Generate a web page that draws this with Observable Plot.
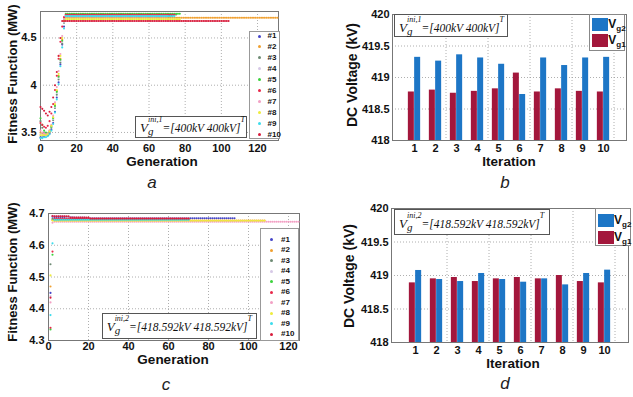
<!DOCTYPE html>
<html><head><meta charset="utf-8">
<script src="https://cdn.jsdelivr.net/npm/d3@7"></script>
<script src="https://cdn.jsdelivr.net/npm/@observablehq/plot@0.6"></script>
<style>
body{margin:0;background:#fff}
#root{position:relative;width:633px;height:397px;overflow:hidden;background:#fff;font-family:"Liberation Sans",Arial,sans-serif;color:#111}
.panel{position:absolute;overflow:hidden}
.t{position:absolute;white-space:nowrap;font-weight:bold;line-height:1}
.ylab{transform:translate(-50%,-50%) rotate(-90deg)}
.xlab{transform:translate(-50%,0)}
.letter{position:absolute;font-style:italic;font-size:17px;line-height:1;transform:translate(-50%,0);color:#222}
.ann{position:absolute;background:#fff;border:1px solid #555;box-sizing:border-box;white-space:nowrap;font-family:"Liberation Serif","Times New Roman",serif;font-style:italic;font-size:11.5px;padding-left:4px}
.ann .V{font-size:13px}
.ann .ss{position:relative;display:inline-block;font-size:8px;line-height:8px}
.ann .ss .sp{position:relative;top:-10px}
.ann .ss .sb{position:absolute;left:0;top:0;font-size:11px;line-height:11px}
.ann .T{position:relative;top:-10px;font-size:8px}
.leg{position:absolute;background:#fff;border:1px solid #999;box-sizing:border-box}
.leg .row{position:absolute;left:0;height:10px;font-size:8px;font-weight:bold;line-height:10px;white-space:nowrap}
.leg .mk{position:absolute;width:3px;height:3px;border-radius:50%;top:3.5px}
.vleg{position:absolute;background:#fff;border:1px solid #888;box-sizing:border-box}
.vleg .sw{position:absolute;width:16px;height:13px}
.vleg .lb{position:absolute;font-weight:bold;font-size:12px;line-height:1;white-space:nowrap}
.vleg .lb sub{font-size:8px;vertical-align:-3px}
</style></head>
<body>
<div id="root"></div>
<script>
// ---------- shared series info ----------
const runs = ["#1","#2","#3","#4","#5","#6","#7","#8","#9","#10"];
const runColors = ["#4545c8","#f0a030","#6e8b74","#d6c8e6","#3cd23c","#e8284a","#f2a0c4","#eeec3c","#3cdcec","#d81c3c"];

// ---------- panel a: fitness vs generation, Vg_ini = [400kV 400kV] ----------
const genTicksA = [0,20,40,60,80,100,120];
const fitTicksA = [3.5,4,4.5];
// fitness values for generations 0..13 of each run
const earlyA = [
  [3.45,3.45,3.46,3.46,3.47,3.49,3.53,3.60,3.72,3.87,4.03,4.22,4.43,4.62],
  [3.50,3.49,3.48,3.48,3.49,3.52,3.57,3.66,3.79,3.94,4.10,4.28,4.48,4.68],
  [3.62,3.55,3.50,3.48,3.47,3.50,3.55,3.63,3.76,3.90,4.06,4.24,4.44,4.66],
  [3.48,3.47,3.47,3.46,3.48,3.51,3.56,3.64,3.77,3.92,4.08,4.26,4.46,4.67],
  [3.65,3.58,3.52,3.50,3.49,3.51,3.56,3.65,3.78,3.93,4.09,4.27,4.47,4.70],
  [3.60,3.58,3.56,3.55,3.57,3.62,3.70,3.80,3.95,4.10,4.28,4.46,4.62,4.72],
  [3.52,3.50,3.49,3.48,3.49,3.52,3.58,3.68,3.82,3.98,4.15,4.33,4.52,4.70],
  [3.47,3.47,3.47,3.47,3.48,3.51,3.57,3.66,3.80,3.95,4.12,4.31,4.50,4.68],
  [3.44,3.44,3.45,3.45,3.46,3.48,3.52,3.59,3.71,3.85,4.01,4.20,4.40,4.60],
  [3.77,3.75,3.73,3.70,3.68,3.72,3.77,3.87,4.00,4.14,4.31,4.50,4.68,4.68]
];
// converged value of each run and the last generation it reaches: [value, lastGeneration]
const plateauA = [
  [[4.735,72]],[[4.714,131]],[[4.748,75]],[[4.738,70]],[[4.756,77]],
  [[4.744,74]],[[4.728,70]],[[4.697,77]],[[4.731,74]],[[4.680,104]]
];

// ---------- panel c: fitness vs generation, Vg_ini = [418.592kV 418.592kV] ----------
const genTicksC = [0,20,40,60,80,100,120];
const fitTicksC = [4.3,4.4,4.5,4.6,4.7];
// fitness values for generations 1..2 of each run
const earlyC = [
  [4.450,4.690],[4.470,4.679],[4.540,4.683],[4.440,4.693],[4.335,4.570],
  [4.340,4.580],[4.420,4.671],[4.505,4.678],[4.380,4.606],[4.435,4.692]
];
const plateauC = [
  [[4.689,12],[4.685,93]],
  [[4.678,108]],
  [[4.682,70]],
  [[4.692,8],[4.689,18],[4.685,70]],
  [[4.680,70]],
  [[4.683,70]],
  [[4.674,125]],
  [[4.677,108]],
  [[4.680,70]],
  [[4.691,10],[4.687,20],[4.684,70]]
];

// ---------- panels b, d: DC voltages per iteration ----------
const iterations = [1,2,3,4,5,6,7,8,9,10];
const voltTicks = [418,418.5,419,419.5,420];
const voltDomain = [418,420];
const iterGrid = [2,4,6,8,10];
const vg1B = [418.77,418.80,418.75,418.78,418.82,419.07,418.77,418.82,418.78,418.77];
const vg2B = [419.32,419.26,419.36,419.31,419.21,418.73,419.31,419.19,419.31,419.32];
const vg1D = [418.89,418.95,418.97,418.91,418.95,418.97,418.95,419.00,418.91,418.89];
const vg2D = [419.075,418.94,418.91,419.03,418.94,418.90,418.95,418.86,419.03,419.08];
const colVg1 = "#a3173c", colVg2 = "#1d76c6";

// ---------- helpers ----------
function buildRuns(early, plateaus, firstGen) {
  const out = [];
  runs.forEach((run, r) => {
    let g = firstGen;
    for (const v of early[r]) out.push({run, gen: g++, value: v});
    for (const [v, last] of plateaus[r]) while (g <= last) out.push({run, gen: g++, value: v});
  });
  return out;
}
const fmt = d => String(d);
const gridStyle = {stroke: "#9a9a9a", strokeOpacity: 1, strokeDasharray: "1,2", strokeWidth: 0.8};
const baseStyle = {fontFamily: "Liberation Sans, Arial, sans-serif", fontSize: "11px", fontWeight: "bold", color: "#111", background: "transparent", overflow: "visible"};
const root = document.getElementById("root");
function place(el, left, top, w, h) {
  const d = document.createElement("div");
  d.className = "panel";
  Object.assign(d.style, {left: left + "px", top: top + "px", width: w + "px", height: h + "px"});
  d.appendChild(el);
  root.appendChild(d);
}
function html(s) { root.insertAdjacentHTML("beforeend", s); }

function fitnessChart(data, opts) {
  return Plot.plot({
    width: opts.width, height: opts.height,
    marginLeft: opts.ml, marginRight: opts.mr, marginTop: opts.mt, marginBottom: opts.mb,
    x: {domain: opts.xDomain},
    y: {domain: opts.yDomain},
    color: {domain: runs, range: runColors},
    style: baseStyle,
    marks: [
      Plot.gridX(opts.xTicks.filter(t => t > 0), gridStyle),
      Plot.gridY(opts.yGrid, gridStyle),
      Plot.frame({stroke: "#777"}),
      Plot.dot(data, {x: "gen", y: "value", fill: "run", r: 1.05, stroke: null}),
      Plot.axisX(opts.xTicks, {tickSize: 0, tickPadding: opts.xpad, tickFormat: fmt, label: null}),
      Plot.axisY(opts.yTicks, {tickSize: 0, tickPadding: 4, tickFormat: fmt, label: null})
    ]
  });
}

function voltChart(v1, v2, opts) {
  const d1 = iterations.map((it, i) => ({iter: it, v: v1[i]}));
  const d2 = iterations.map((it, i) => ({iter: it, v: v2[i]}));
  return Plot.plot({
    width: opts.width, height: opts.height,
    marginLeft: opts.ml, marginRight: opts.mr, marginTop: opts.mt, marginBottom: opts.mb,
    x: {type: "band", domain: iterations, paddingInner: 0.7, paddingOuter: opts.po},
    y: {domain: voltDomain},
    style: baseStyle,
    marks: [
      Plot.ruleX(iterGrid, {x: d => d, dx: 10.5, ...gridStyle}),
      Plot.gridY(voltTicks.slice(1, -1), gridStyle),
      Plot.barY(d1, {x: "iter", y1: voltDomain[0], y2: "v", fill: colVg1, dx: -3.15}),
      Plot.barY(d2, {x: "iter", y1: voltDomain[0], y2: "v", fill: colVg2, dx: 3.15}),
      Plot.frame({stroke: "#777"}),
      Plot.axisX(iterations, {tickSize: 0, tickPadding: opts.xpad, tickFormat: fmt, label: null}),
      Plot.axisY(voltTicks, {tickSize: 0, tickPadding: 3, tickFormat: fmt, label: null})
    ]
  });
}

// ---------- draw charts ----------
place(fitnessChart(buildRuns(earlyA, plateauA, 0), {
  width: 300, height: 200, ml: 40, mr: 22, mt: 11, mb: 60,
  xDomain: [0, 131.6], yDomain: [3.415, 4.78],
  xTicks: genTicksA, yTicks: fitTicksA, yGrid: fitTicksA, xpad: 3.5
}), 0, 0, 300, 200);

place(voltChart(vg1B, vg2B, {width: 313, height: 200, ml: 72, mr: 7, mt: 14, mb: 60, po: 0.92, xpad: 3.5}), 320, 0, 313, 200);

place(fitnessChart(buildRuns(earlyC, plateauC, 1), {
  width: 300, height: 197, ml: 48, mr: 1, mt: 13, mb: 57,
  xDomain: [0, 125.5], yDomain: [4.3, 4.7],
  xTicks: genTicksC, yTicks: fitTicksC, yGrid: [4.4, 4.5, 4.6], xpad: 1.5
}), 0, 200, 300, 197);

place(voltChart(vg1D, vg2D, {width: 313, height: 197, ml: 71, mr: 5, mt: 8, mb: 55, po: 0.99, xpad: 3.5}), 320, 200, 313, 197);

// ---------- axis titles and panel letters ----------
html(`<div class="t ylab" style="left:11.5px;top:73.5px;font-size:13px">Fitness Function (MW)</div>`);
html(`<div class="t xlab" style="left:162px;top:155px;font-size:13.5px">Generation</div>`);
html(`<div class="letter" style="left:152px;top:173.6px">a</div>`);

html(`<div class="t ylab" style="left:352px;top:75px;font-size:14px">DC Voltage (kV)</div>`);
html(`<div class="t xlab" style="left:509px;top:154.5px;font-size:13.5px">Iteration</div>`);
html(`<div class="letter" style="left:505px;top:174px">b</div>`);

html(`<div class="t ylab" style="left:11.5px;top:272px;font-size:13px">Fitness Function (MW)</div>`);
html(`<div class="t xlab" style="left:173px;top:353px;font-size:13.5px">Generation</div>`);
html(`<div class="letter" style="left:166px;top:375.6px">c</div>`);

html(`<div class="t ylab" style="left:349px;top:276px;font-size:14px">DC Voltage (kV)</div>`);
html(`<div class="t xlab" style="left:513px;top:356.5px;font-size:13.5px">Iteration</div>`);
html(`<div class="letter" style="left:505px;top:375px">d</div>`);

// ---------- annotation boxes ----------
function ann(left, top, w, h, sup, value, lh) {
  html(`<div class="ann" style="left:${left}px;top:${top}px;width:${w}px;height:${h}px;line-height:${lh}px"><span class="V">V</span><span class="ss"><span class="sp">${sup}</span><span class="sb">g</span></span><span>=[${value}kV ${value}kV]</span><span class="T">T</span></div>`);
}
ann(135, 116, 112, 21.5, "ini,1", "400", 21.5);
ann(394, 14, 114, 23, "ini,1", "400", 26);
ann(101.7, 313.3, 155, 26, "ini,2", "418.592", 25.5);
ann(394, 209.3, 155.5, 26, "ini,2", "418.592", 28);

// ---------- run legends ----------
function runLegend(left, top, w, h, firstRow, step, mkX, txtX) {
  let s = `<div class="leg" style="left:${left}px;top:${top}px;width:${w}px;height:${h}px">`;
  runs.forEach((r, i) => {
    const y = firstRow + i * step - 5;
    s += `<div class="row" style="top:${y}px"><span class="mk" style="left:${mkX}px;background:${runColors[i]}"></span><span style="position:absolute;left:${txtX}px">${r}</span></div>`;
  });
  html(s + `</div>`);
}
runLegend(249, 30.5, 31, 108, 4.5, 10.95, 7.5, 17.5);
runLegend(260, 228, 38.5, 112.5, 10.5, 10.5, 9, 20);

// ---------- voltage legends ----------
function voltLegend(left, top, w, h, sw1, sw2) {
  html(`<div class="vleg" style="left:${left}px;top:${top}px;width:${w}px;height:${h}px">
    <div class="sw" style="left:1.5px;top:${sw1}px;background:${colVg2}"></div>
    <div class="lb" style="left:18px;top:${sw1}px">V<sub>g2</sub></div>
    <div class="sw" style="left:1.5px;top:${sw2}px;background:${colVg1}"></div>
    <div class="lb" style="left:18px;top:${sw2}px">V<sub>g1</sub></div>
  </div>`);
}
voltLegend(589.3, 14, 36, 37, 3, 19);
voltLegend(595, 208, 36, 37.5, 4.5, 22);
</script>
</body></html>
